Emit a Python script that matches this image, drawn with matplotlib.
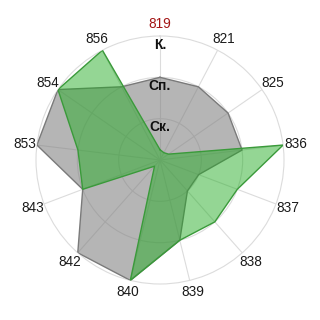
import numpy as np
import matplotlib
matplotlib.use("Agg")
import matplotlib.pyplot as plt

categories = ['819', '821', '825', '836', '837', '838', '839',
              '840', '842', '843', '853', '854', '856']
gray_values = [2, 2, 2, 2, 1, 1, 2, 3, 3, 2, 3, 3, 2]
green_values = [0.25, 0.2, 0.25, 3, 2, 2, 2, 3, 0.2, 2, 2, 3, 3]
level_labels = ['Ск.', 'Сп.', 'К.']
level_values = [1, 2, 3]

plt.rcParams['font.family'] = ['Liberation Sans', 'DejaVu Sans']

fig = plt.figure(figsize=(3.2, 3.2), dpi=100)
ax = fig.add_axes([0.1125, 0.1125, 0.775, 0.775], projection='polar')
ax.set_theta_zero_location('N')
ax.set_theta_direction(-1)

n = len(categories)
theta = np.arange(n) * 2 * np.pi / n
ax.set_ylim(0, max(level_values))
ax.set_xticks(theta)
ax.set_xticklabels([])
ax.set_yticks(level_values[:-1])
ax.set_yticklabels([])
ax.grid(color='#dcdcdc', lw=0.8)
ax.spines['polar'].set_color('#dcdcdc')
ax.spines['polar'].set_linewidth(0.8)

th = np.append(theta, theta[0])
gv = np.append(gray_values, gray_values[0])
ev = np.append(green_values, green_values[0])

ax.fill(th, gv, color=(0.5, 0.5, 0.5), alpha=0.58, lw=0, zorder=2)
ax.plot(th, gv, color='#7a7a7a', lw=1.0, zorder=3)
ax.fill(th, ev, color=(0.12, 0.67, 0.12), alpha=0.48, lw=0, zorder=4)
ax.plot(th, ev, color='#3a9a3a', lw=1.0, zorder=5)

for i, cat in enumerate(categories):
    ax.text(theta[i], 3.3, cat, ha='center', va='center', fontsize=9.8,
            color='#a31515' if i == 0 else '#1a1a1a')

for lab, v in zip(level_labels, level_values):
    ax.text(0, v - 0.21, lab, ha='center', va='center', fontsize=10,
            fontweight='bold', color='#111111', zorder=6)

fig.savefig('out.png', dpi=100)
